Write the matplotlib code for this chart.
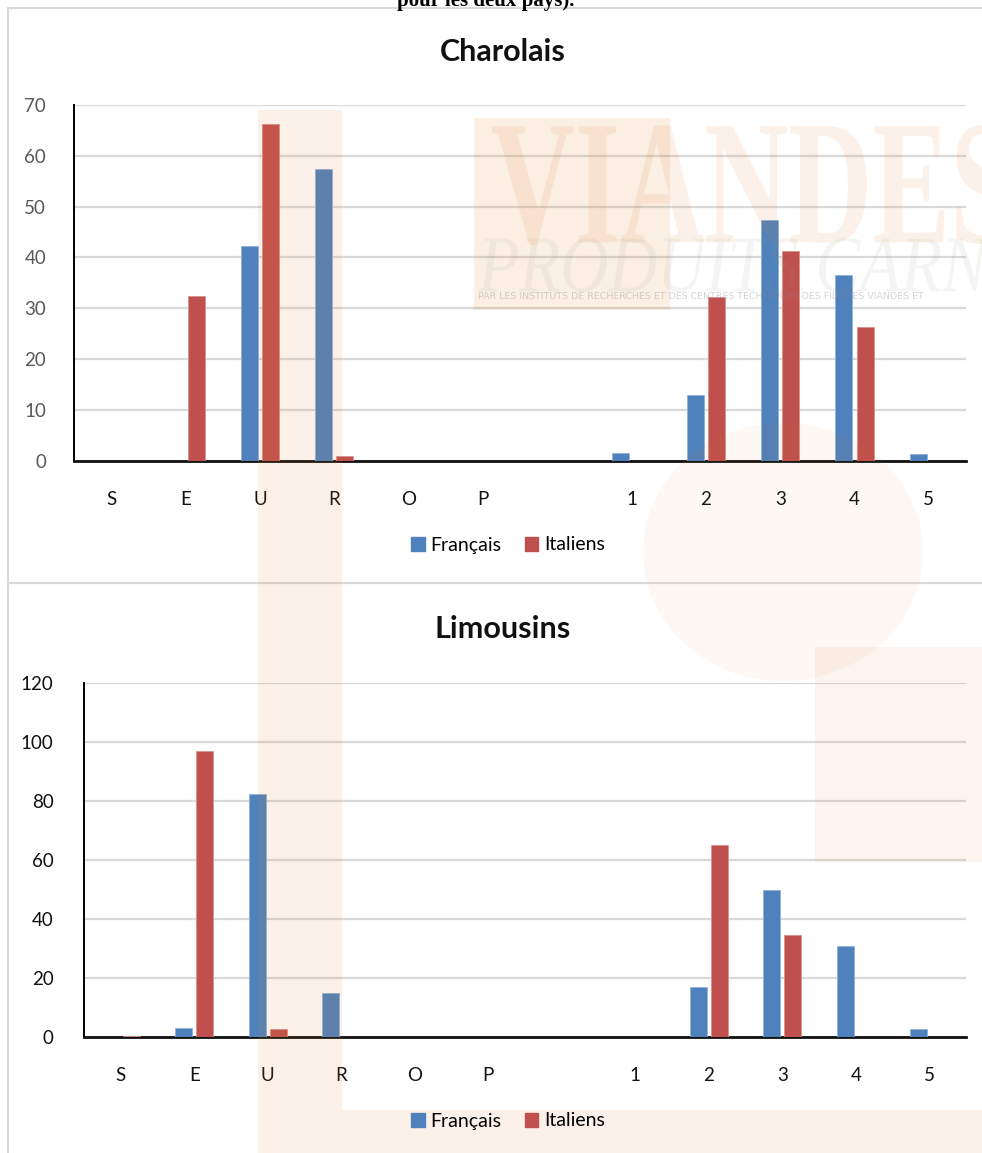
import numpy as np
import matplotlib
matplotlib.use("Agg")
import matplotlib.pyplot as plt
import matplotlib.patches as mpatches
from matplotlib.textpath import TextPath
from matplotlib.font_manager import FontProperties
from matplotlib.transforms import Affine2D

# ── data ──────────────────────────────────────────────────────────────────────
categories = ["S", "E", "U", "R", "O", "P", "", "1", "2", "3", "4", "5"]

charolais_fr = [0, 0, 42.2, 57.4, 0, 0, 0, 1.4, 12.8, 47.4, 36.6, 1.2]
charolais_it = [0, 32.4, 66.2, 0.8, 0, 0, 0, 0, 32.2, 41.3, 26.2, 0]

limousins_fr = [0, 2.8, 82.3, 14.8, 0, 0, 0, 0, 16.9, 49.6, 30.9, 2.5]
limousins_it = [0.4, 96.8, 2.5, 0, 0, 0, 0, 0, 65.0, 34.6, 0, 0]

series_names = ["Français", "Italiens"]

BLUE = "#4F81BD"
RED = "#C0504D"
FONT = "Lato"

W, H = 982, 1153
fig = plt.figure(figsize=(W / 100, H / 100), dpi=100)
fig.patch.set_facecolor("white")


def fx(px):
    return px / W


def fy(py):
    return 1 - py / H


def draw_panel(rect, fr, it, ymax, ystep, ytick_color, title, title_y, leg_y, ypad, xpad):
    ax = fig.add_axes(rect)
    x = np.arange(len(categories))
    ax.bar(x - 0.145, fr, width=0.23, color=BLUE, edgecolor="#8fb0d8",
           linewidth=0.6, label=series_names[0], zorder=3)
    ax.bar(x + 0.145, it, width=0.23, color=RED, edgecolor="#d9908e",
           linewidth=0.6, label=series_names[1], zorder=3)
    ax.set_xlim(-0.5, len(categories) - 0.5)
    ax.set_ylim(0, ymax)
    ax.set_yticks(np.arange(0, ymax + 1, ystep))
    ax.set_xticks(x)
    ax.set_xticklabels(categories)
    ax.yaxis.grid(True, color="#d9d9d9", linewidth=1.6, zorder=0)
    ax.set_axisbelow(True)
    for s in ["top", "right"]:
        ax.spines[s].set_visible(False)
    ax.spines["left"].set_linewidth(1.4)
    ax.spines["bottom"].set_linewidth(2.0)
    ax.spines["bottom"].set_color("#111111")
    ax.tick_params(axis="both", length=0)
    ax.tick_params(axis="y", pad=ypad, labelsize=13.5, labelcolor=ytick_color)
    ax.tick_params(axis="x", pad=xpad, labelsize=13.5, labelcolor="#111111")
    for lab in ax.get_xticklabels() + ax.get_yticklabels():
        lab.set_fontfamily(FONT)
    ax.set_facecolor("none")

    fig.text(fx(503), fy(title_y), title, ha="center", va="center",
             fontsize=22, fontweight="bold", family=FONT, color="#111111")
    handles = [mpatches.Patch(color=BLUE, label=series_names[0]),
               mpatches.Patch(color=RED, label=series_names[1])]
    fig.legend(handles=handles, loc="center", bbox_to_anchor=(fx(508), fy(leg_y)),
               ncol=2, frameon=False, handlelength=0.7, handleheight=0.7,
               handletextpad=0.3, columnspacing=1.2,
               prop={"family": FONT, "size": 14})
    return ax


# ── Charolais ────────────────────────────────────────────────────────────────
draw_panel([fx(74), fy(460.5), fx(966) - fx(74), fy(105) - fy(460.5)],
           charolais_fr, charolais_it, 70, 10, "#595959",
           "Charolais", 52, 545, 20, 22)

# ── Limousins ────────────────────────────────────────────────────────────────
draw_panel([fx(84), fy(1036.7), fx(966) - fx(84), fy(682.7) - fy(1036.7)],
           limousins_fr, limousins_it, 120, 20, "#111111",
           "Limousins", 629, 1121, 22, 22)

# ── chart borders ────────────────────────────────────────────────────────────
for y0, y1 in [(8, 583), (583, 1160)]:
    fig.add_artist(mpatches.Rectangle((fx(8), fy(y1)), fx(990) - fx(8), fy(y0) - fy(y1),
                                      transform=fig.transFigure, fill=False,
                                      edgecolor="#d9d9d9", linewidth=1.5))

# truncated caption above (cut by the page edge, as in the source)
fig.text(0.495, fy(6), "pour les deux pays).", ha="center", va="baseline",
         fontsize=15, fontweight="bold", family="Liberation Serif", color="black")

# ── watermark overlay ────────────────────────────────────────────────────────
WM = "#e07a20"


def wm_rect(x0, y0, x1, y1, alpha):
    fig.add_artist(mpatches.Rectangle((fx(x0), fy(y1)), fx(x1) - fx(x0), fy(y0) - fy(y1),
                                      transform=fig.transFigure, facecolor=WM,
                                      edgecolor="none", alpha=alpha, zorder=5))


wm_rect(258, 110, 342, 1153, 0.10)
wm_rect(342, 1110, 982, 1153, 0.10)
wm_rect(474, 118, 670, 310, 0.12)
wm_rect(815, 647, 982, 862, 0.07)
fig.add_artist(mpatches.Ellipse((fx(783), fy(552)), fx(280) - fx(0), fy(0) - fy(258),
                                transform=fig.transFigure, facecolor=WM,
                                edgecolor="none", alpha=0.05, zorder=5))


def wm_text(s, x0, y0, x1, y1, color, alpha, **kw):
    tp = TextPath((0, 0), s, size=100, prop=FontProperties(family="Liberation Serif", **kw))
    bb = tp.get_extents()
    sx = (fx(x1) - fx(x0)) / bb.width
    sy = (fy(y0) - fy(y1)) / bb.height
    tr = Affine2D().translate(-bb.x0, -bb.y0).scale(sx, sy).translate(fx(x0), fy(y1))
    fig.add_artist(mpatches.PathPatch(tr.transform_path(tp), transform=fig.transFigure,
                                      facecolor=color, edgecolor="none",
                                      alpha=alpha, zorder=6, clip_on=False))


wm_text("VIANDES", 492, 125, 1010, 245, WM, 0.10, weight="bold")
wm_text("PRODUITS CARNES", 478, 238, 1060, 292, "#8a9a7a", 0.09, style="italic")
fig.text(fx(478), fy(296), "PAR LES INSTITUTS DE RECHERCHES ET DES CENTRES TECHNIQUES DES FILIERES VIANDES ET",
         ha="left", va="center", fontsize=6.8, family="DejaVu Sans", color="#888888",
         alpha=0.35, zorder=6)

fig.savefig("out.png", dpi=100, facecolor="white")
